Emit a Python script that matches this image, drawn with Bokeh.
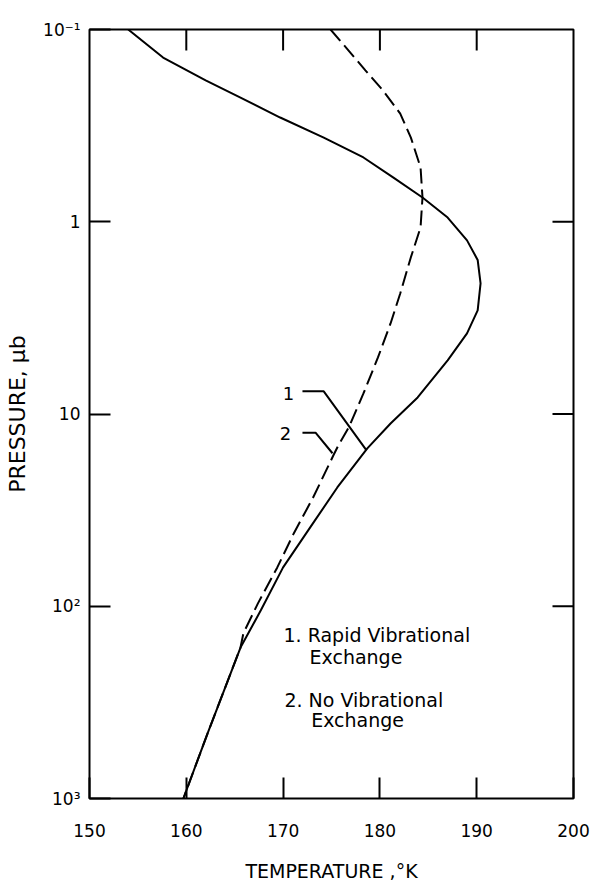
import math
from bokeh.plotting import figure
from bokeh.models import Range1d, FixedTicker, Label
from bokeh.embed import file_html
from bokeh.resources import INLINE

# ---- data ----
# Curve 1: Rapid Vibrational Exchange (solid)
t_rapid = [154.0, 157.6, 162.0, 165.6, 169.7, 174.2, 178.3, 181.4, 184.4, 187.0,
           189.0, 190.1, 190.4, 190.1, 189.0, 187.0, 183.9, 181.1, 178.7, 175.6,
           172.8, 170.0, 167.7, 165.6, 162.2, 159.7]
p_rapid = [0.100, 0.140, 0.184, 0.226, 0.287, 0.365, 0.463, 0.589, 0.748, 0.951,
           1.25, 1.58, 2.09, 2.89, 3.81, 5.26, 8.20, 11.2, 15.1, 24.1,
           38.9, 62.8, 105.0, 164.0, 458.0, 1000.0]

# Curve 2: No Vibrational Exchange (dashed)
t_novib = [174.9, 178.5, 180.3, 182.1, 183.2, 184.2, 184.4, 184.2, 183.2, 182.1,
           181.1, 179.8, 178.3, 176.8, 175.7, 175.2, 173.1, 171.1, 169.4, 167.4,
           165.9, 165.6, 162.2, 159.7]
p_novib = [0.100, 0.163, 0.207, 0.274, 0.365, 0.522, 0.748, 1.07, 1.53, 2.36,
           3.38, 5.08, 7.82, 11.7, 14.6, 16.4, 27.2, 41.8, 62.8, 96.6,
           138.0, 164.0, 458.0, 1000.0]

# leader lines for curve labels
lead1_t = [172.0, 174.2, 178.6]
lead1_p = [7.62, 7.62, 15.4]
lead2_t = [172.0, 173.35, 175.1]
lead2_p = [12.5, 12.5, 16.0]

x_ticks = [150, 160, 170, 180, 190, 200]
x_tick_labels = ["150", "160", "170", "180", "190", "200"]
y_ticks = [0.1, 1, 10, 100, 1000]
y_tick_labels = ["10\u207b\u00b9", "1", "10", "10\u00b2", "10\u00b3"]

FONT = "DejaVu Sans"
X0, X1 = 150, 200
Y0, Y1 = 1000, 0.1
FW, FH = 484, 769
TICK = 21

p = figure(width=597, height=886, frame_width=FW, frame_height=FH,
           x_range=Range1d(X0, X1), y_range=Range1d(Y0, Y1),
           y_axis_type="log", output_backend="svg", toolbar_location=None,
           min_border_left=89, min_border_right=24, min_border_top=29,
           min_border_bottom=88, background_fill_color="white",
           border_fill_color="white")
p.xgrid.visible = False
p.ygrid.visible = False
p.outline_line_color = "black"
p.outline_line_width = 2
p.outline_line_alpha = 1.0

def style(ax, ticks, overrides):
    ax.ticker = FixedTicker(ticks=ticks, minor_ticks=[])
    ax.axis_line_color = None
    ax.major_tick_in = TICK
    ax.major_tick_out = 0
    ax.major_tick_line_width = 2
    ax.major_tick_line_color = "black"
    ax.minor_tick_line_color = None
    ax.major_label_overrides = overrides
    ax.major_label_text_font = FONT
    ax.major_label_text_color = "black"
    ax.major_label_text_font_size = "17px"

bx = p.xaxis[0]
style(bx, x_ticks, {t: s for t, s in zip(x_ticks, x_tick_labels)})
bx.major_label_standoff = 25
bx.axis_label = "TEMPERATURE ,\u00b0K"
bx.axis_label_text_font = FONT
bx.axis_label_text_font_style = "normal"
bx.axis_label_text_font_size = "19px"
bx.axis_label_text_color = "black"
bx.axis_label_standoff = 20

ly = p.yaxis[0]
style(ly, y_ticks, {t: s for t, s in zip(y_ticks, y_tick_labels)})
ly.major_label_standoff = 9
ly.axis_label = "PRESSURE, \u03bcb"
ly.axis_label_text_font = FONT
ly.axis_label_text_font_style = "normal"
ly.axis_label_text_font_size = "22px"
ly.axis_label_text_color = "black"
ly.axis_label_standoff = 10

# inward ticks on the top and right edges (lengths derived from frame scale)
top_x = x_ticks[1:-1]
dy_top = Y1 * 10 ** (TICK / FH * math.log10(Y0 / Y1))
p.segment(x0=top_x, y0=[Y1] * len(top_x), x1=top_x, y1=[dy_top] * len(top_x),
          line_color="black", line_width=2)
right_y = y_ticks[1:-1]
dx_right = X1 - TICK / FW * (X1 - X0)
p.segment(x0=[X1] * len(right_y), y0=right_y, x1=[dx_right] * len(right_y),
          y1=right_y, line_color="black", line_width=2)

p.line(t_rapid, p_rapid, line_color="black", line_width=2)
p.line(t_novib, p_novib, line_color="black", line_width=2, line_dash="15 6")

p.line(lead1_t, lead1_p, line_color="black", line_width=2)
p.line(lead2_t, lead2_p, line_color="black", line_width=2)

lab_kw = dict(text_font=FONT, text_color="black", text_font_size="18px",
              text_align="center", text_baseline="middle")
p.add_layout(Label(x=170.56, y=7.8, text="1", **lab_kw))
p.add_layout(Label(x=170.25, y=12.6, text="2", **lab_kw))

leg_kw = dict(text_font=FONT, text_color="black", text_font_size="19px",
              text_align="left", text_baseline="alphabetic")
p.add_layout(Label(x=170.04, y=141.6, text="1. Rapid  Vibrational", **leg_kw))
p.add_layout(Label(x=172.73, y=184.6, text="Exchange", **leg_kw))
p.add_layout(Label(x=170.14, y=308.0, text="2. No Vibrational", **leg_kw))
p.add_layout(Label(x=172.9, y=392.0, text="Exchange", **leg_kw))

open("out.html", "w").write(file_html(p, INLINE))
